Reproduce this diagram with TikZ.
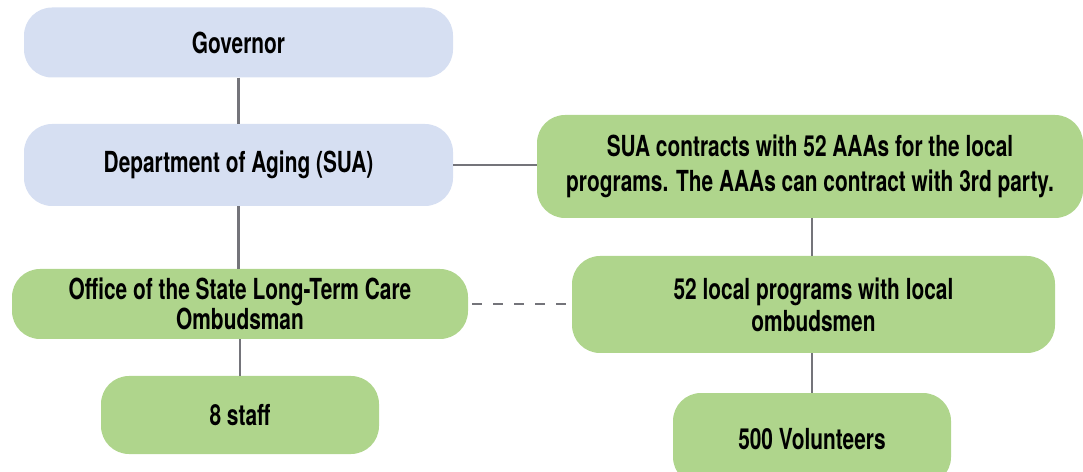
\documentclass[tikz,border=0pt]{standalone}
\usepackage{fontspec}
\setmainfont{TeX Gyre Heros}[FakeStretch=0.72]
\usepackage{xcolor}
\definecolor{boxblue}{HTML}{D6DFF2}
\definecolor{boxgreen}{HTML}{AFD58C}
\definecolor{linkgray}{HTML}{74747A}
\begin{document}
\begin{tikzpicture}[
				x=1pt,
				y=1pt,
				line cap=butt,
				every node/.style={font=\bfseries\fontsize{29}{32}\selectfont,align=center},
				orgbox/.style={rectangle,rounded corners=28pt,inner sep=0pt},
				bluebox/.style={orgbox,fill=boxblue},
				greenbox/.style={orgbox,fill=boxgreen},
				link/.style={draw=linkgray,line width=2.6pt}
				]
				\useasboundingbox (0,0) rectangle (1083,471);
				
				\node[bluebox,minimum width=429,minimum height=70] (gov) at (238.5,428.5) {Governor};
				\node[bluebox,minimum width=429,minimum height=82] (dept) at (238.5,306) {Department of Aging (SUA)};
				\node[greenbox,minimum width=546,minimum height=103,font=\bfseries\fontsize{29}{35}\selectfont] (sua) at (810,304.5)
				{SUA contracts with 52 AAAs for the local\\programs. The AAAs can contract with 3rd party.};
				\node[greenbox,minimum width=456,minimum height=70,font=\bfseries\fontsize{29}{30}\selectfont] (office) at (240,167)
				{Office of the State Long-Term Care\\Ombudsman};
				\node[greenbox,minimum width=483,minimum height=97] (local) at (813.5,166.5)
				{52 local programs with local\\ombudsmen};
				\node[greenbox,minimum width=278,minimum height=78] (staff) at (240,56) {8 staff};
				\node[greenbox,minimum width=278,minimum height=92] (vol) at (812,32) {500 Volunteers};
				
				\draw[link] (gov.south) -- (dept.north);
				\draw[link] (dept.south) -- (dept.south |- office.north);
				\draw[link] (office.south) -- (office.south |- staff.north);
				\draw[link] (dept.east) -- (dept.east -| sua.west);
				\draw[link] (vol.north |- sua.south) -- (vol.north |- local.north);
				\draw[link] (local.south -| vol.north) -- (vol.north);
				\draw[link,dash pattern=on 10pt off 11pt] (office.east) ++(4,0) -- (office.east -| local.west);
			\end{tikzpicture}
\end{document}
